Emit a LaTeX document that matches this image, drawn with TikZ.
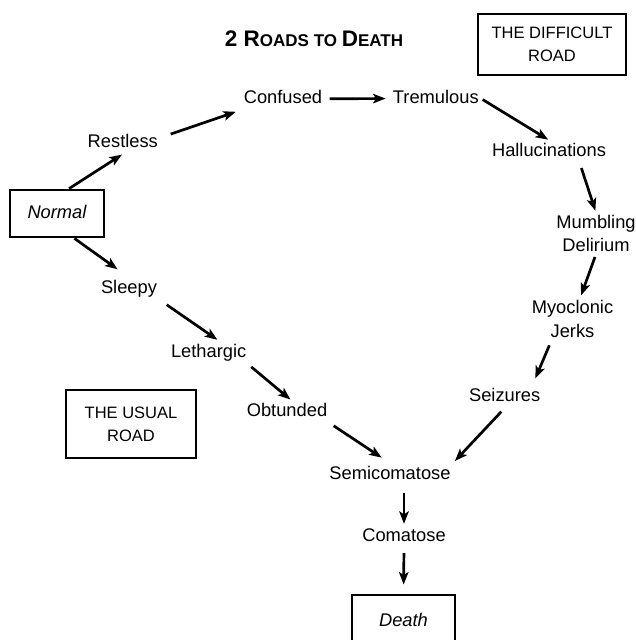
\documentclass[tikz,border=0pt]{standalone}
\usepackage{fontspec}
\setmainfont{Liberation Sans}
\usetikzlibrary{arrows.meta}

\begin{document}
\begin{tikzpicture}[x=1pt, y=-1pt, >={Stealth[length=12.5pt,width=9.5pt,inset=3pt]}, line width=2.7pt,
    stage/.style={font=\fontsize{18.3}{23.4}\selectfont, inner sep=1pt},
    oneline/.style={text height=13.5pt, text depth=4pt},
    roadbox/.style={draw, line width=2.9pt, font=\fontsize{16.5}{22.7}\selectfont, align=center, inner sep=0pt}]
    \useasboundingbox (0,0) rectangle (636,640);

    % Title and the two road labels
    \node[anchor=base, font=\bfseries] (title) at (314,46.7)
        {\fontsize{22.5}{24}\selectfont 2 R\fontsize{17}{18}\selectfont OADS TO \fontsize{22.5}{24}\selectfont D\fontsize{17}{18}\selectfont EATH};
    \node[roadbox, minimum width=148pt, minimum height=61pt] (difficult) at (552,44.5) {THE DIFFICULT\\ROAD};
    \node[roadbox, minimum width=130pt, minimum height=68pt] (usual) at (131,424) {THE USUAL\\ROAD};

    % Start and end
    \node[roadbox, oneline, minimum width=94pt, minimum height=47pt, font=\fontsize{18.3}{22}\selectfont\itshape] (normal) at (57,213.5) {Normal};
    \node[roadbox, oneline, minimum width=103pt, minimum height=54pt, font=\fontsize{18.3}{22}\selectfont\itshape] (death) at (403.5,622) {Death};

    % The difficult road
    \node[stage, oneline, anchor=base] (restless) at (122.8,147.7) {Restless};
    \node[stage, oneline, anchor=base] (confused) at (283,103.5) {Confused};
    \node[stage, oneline, anchor=base] (tremulous) at (435.8,103.3) {Tremulous};
    \node[stage, oneline, anchor=base] (hallucinations) at (549,156) {Hallucinations};
    \node[stage, align=center] (mumbling) at (596,233.4) {Mumbling\\Delirium};
    \node[stage, align=center] (myoclonic) at (572.5,319) {Myoclonic\\Jerks};
    \node[stage, oneline, anchor=base] (seizures) at (504.7,401.7) {Seizures};

    % The usual road
    \node[stage, oneline, anchor=base] (sleepy) at (129,293.3) {Sleepy};
    \node[stage, oneline, anchor=base] (lethargic) at (208.7,357.3) {Lethargic};
    \node[stage, oneline, anchor=base] (obtunded) at (287,416.7) {Obtunded};

    % Common end
    \node[stage, oneline, anchor=base] (semicomatose) at (390,479) {Semicomatose};
    \node[stage, oneline, anchor=base] (comatose) at (404,541.7) {Comatose};

    % Difficult road arrows
    \path[->]
    (normal.64) edge[shorten >=1pt] (restless.south)
    (restless.8) edge[shorten <=11pt, shorten >=6pt] (confused.south west)
    (confused.east) edge[shorten <=5pt, shorten >=5pt] (tremulous.west)
    (tremulous.east) edge[shorten <=2pt, shorten >=1pt] (hallucinations.north)
    (hallucinations.-20) edge[shorten <=6pt, shorten >=2pt] (mumbling.north)
    (mumbling.south) edge[shorten <=3pt, shorten >=3pt] (myoclonic.70)
    (myoclonic.-135) edge[shorten <=6pt, shorten >=8pt] (seizures.22)
    (seizures.south) edge[shorten <=5pt, shorten >=3pt] (semicomatose.north east);

    % Usual road arrows
    \path[->]
    (normal.-55) edge[shorten >=14pt] (sleepy.north)
    (sleepy.south east) edge[shorten <=9pt, shorten >=3pt] (lethargic.45)
    (lethargic.-16) edge[shorten <=5pt, shorten >=2pt] (obtunded.66)
    (obtunded.south east) edge[shorten <=5pt, shorten >=10pt] (semicomatose.north)
    (comatose.north |- semicomatose.south) edge[shorten <=8pt, shorten >=2pt] (comatose.north)
    (comatose.south) edge[shorten <=5pt, shorten >=9pt] (death.north);
\end{tikzpicture}
\end{document}
